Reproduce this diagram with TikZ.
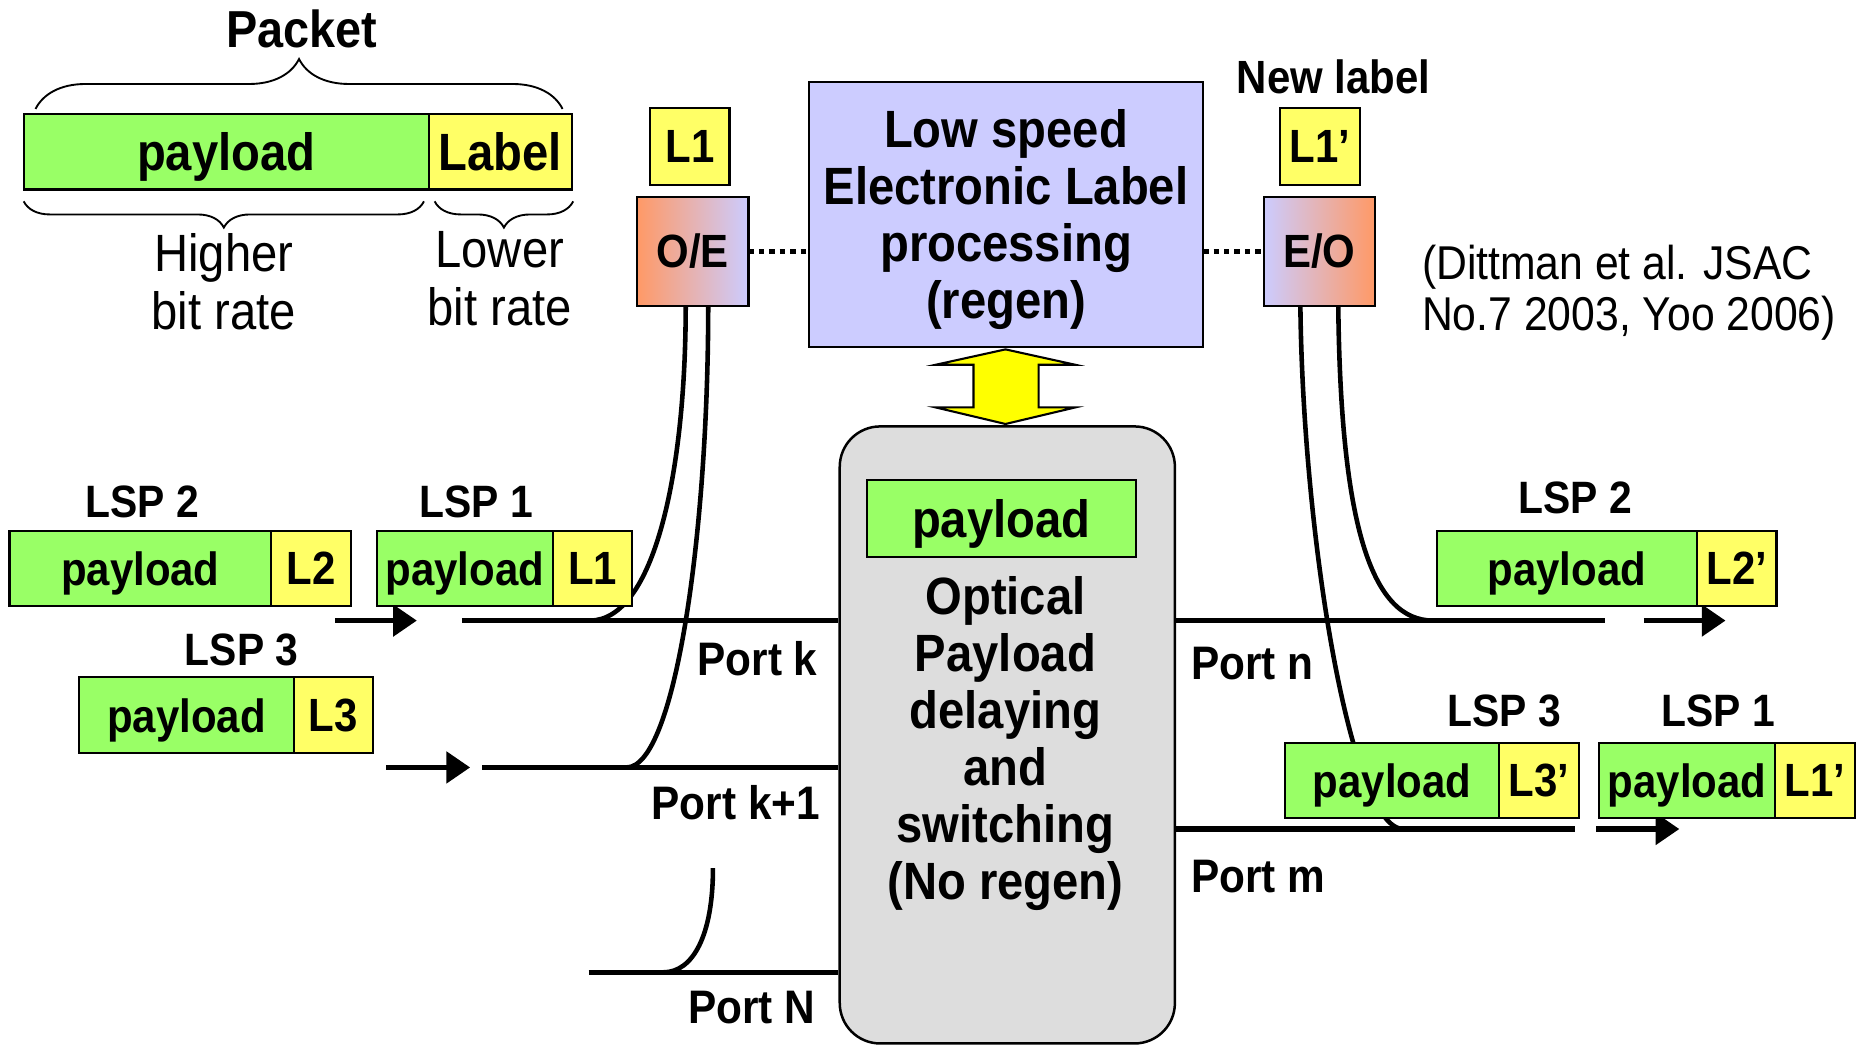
\documentclass[tikz,border=0pt]{standalone}
\usepackage{fontspec}
\setmainfont{Liberation Sans}[FakeStretch=0.9]
\usetikzlibrary{calc,arrows.meta,positioning,decorations.pathreplacing}

\definecolor{paygreen}{HTML}{99FF66}
\definecolor{labyellow}{HTML}{FFFF66}
\definecolor{lavender}{HTML}{CCCCFF}
\definecolor{convorange}{HTML}{FF9966}
\definecolor{switchgray}{HTML}{DDDDDD}
\definecolor{arrowyellow}{HTML}{FFFF00}

\begin{document}
\begin{tikzpicture}[x=0.1mm,y=-0.1mm,>={Triangle[length=5.7pt,width=7.4pt]},
  big/.style={font=\bfseries\fontsize{12.6}{13.7}\selectfont},
  mid/.style={font=\bfseries\fontsize{11.2}{12.5}\selectfont},
  lsp/.style={font=\bfseries\fontsize{10.9}{12}\selectfont},
  portname/.style={font=\bfseries\fontsize{11.3}{12}\selectfont,inner sep=0pt},
  plain/.style={font=\fontsize{12.6}{13.9}\selectfont,align=center},
  box/.style={draw,line width=0.5pt,inner sep=0pt,outer sep=0pt,text depth=0pt},
  pay/.style={box,fill=paygreen,minimum height=6.4mm,mid},
  lab/.style={box,fill=labyellow,minimum height=6.4mm,minimum width=6.7mm,mid},
  conv/.style={box,minimum width=9.4mm,minimum height=9.2mm,mid},
  port/.style={line width=1.3pt},
  fibre/.style={line width=1.1pt},
  brc/.style={decorate,line width=0.45pt},
  link/.style={line width=1.2pt,dash pattern=on 1.3pt off 1.2pt}]
\useasboundingbox (0,0) rectangle (1568,882);

% packet format
\node[lsp,font=\bfseries\fontsize{12.5}{13}\selectfont] (pkt) at (255,24) {Packet};
\node[pay,big,minimum width=34.2mm,anchor=north west] (pktpay) at (20,96) {payload};
\node[lab,big,minimum width=12.1mm,right=0pt of pktpay] (pktlab) {Label};
\draw[brc,decoration={brace,amplitude=12pt}] (30,92) -- (475,92);
\draw[brc,decoration={brace,amplitude=6.3pt}] (358,170) -- (20,170);
\draw[brc,decoration={brace,amplitude=6.3pt}] (484,170) -- (367,170);
\node[plain] (hirate) at (189,238) {Higher\\bit rate};
\node[plain] (lorate) at (422,235) {Lower\\bit rate};

% label processing
\node[box,fill=lavender,minimum width=33.3mm,minimum height=22.4mm,anchor=north west,big,align=center]
  (proc) at (683,69) {Low speed\\Electronic Label\\processing\\(regen)};
\node[conv,left color=convorange,right color=lavender,anchor=north west] (oe) at (538,166) {O/E};
\node[conv,left color=lavender,right color=convorange,anchor=north west] (eo) at (1067,166) {E/O};
\node[lab,minimum height=6.5mm,anchor=north west] (oldlab) at (549,91) {L1};
\node[lab,minimum height=6.5mm,anchor=north west] (newlab) at (1081,91) {L1’};
\node[lsp,font=\bfseries\fontsize{11.2}{12}\selectfont] (newtxt) at (1126,65) {New label};
\draw[link] (oe.east) -- (oe.east -| proc.west);
\draw[link] (proc.east |- eo.west) -- (eo.west);
\node[font=\fontsize{11.4}{12.2}\selectfont,align=left,anchor=west,inner sep=0pt] (cite) at (1200,247)
  {(Dittman et al. JSAC\\No.7 2003, Yoo 2006)};

% optical switch
\node[draw,line width=0.6pt,fill=switchgray,rounded corners=9.7pt,minimum width=28.3mm,
  minimum height=52.1mm,anchor=north west] (sw) at (708,359) {};
\node[pay,big,minimum width=22.7mm,minimum height=6.5mm,anchor=north west] (swpay) at (732,405) {payload};
\node[big,align=center,text depth=0pt] (swtxt) at (849,623) {Optical\\Payload\\delaying\\and\\switching\\(No regen)};
\draw[line width=0.5pt,fill=arrowyellow] (849,295) -- (790,308) -- (822,308) -- (822,344)
  -- (790,344) -- (849,358) -- (908,344) -- (877,344) -- (877,308) -- (908,308) -- cycle;

% input ports
\coordinate (pk) at (390,524);
\coordinate (pk1) at (407,648);
\coordinate (pN) at (497,821);
\draw[port] (pk) -- (pk -| sw.west);
\draw[port] (pk1) -- (pk1 -| sw.west);
\draw[port] (pN) -- (pN -| sw.west);
\coordinate (oe1) at ($(oe.south)+(-6,0)$);
\coordinate (oe2) at ($(oe.south)+(13,0)$);
\coordinate (jk) at (498,524);
\coordinate (jk1) at (529,648);
\coordinate (jN0) at (602,733);
\coordinate (jN) at (560,821);
\draw[fibre] (oe1) .. controls ($(oe1)+(0,142)$) and (552,524) .. (jk);
\draw[fibre] (oe2) .. controls ($(oe2)+(0,192)$) and (570,648) .. (jk1);
\draw[fibre] (jN0) .. controls (602,790) and (585,821) .. (jN);

% output ports
\coordinate (pn) at (1355,524);
\coordinate (pm) at (1330,700);
\draw[port] (sw.east |- pn) -- (pn);
\draw[port] (sw.east |- pm) -- (pm);
\coordinate (eo1) at ($(eo.south)+(-16,0)$);
\coordinate (eo2) at ($(eo.south)+(16,0)$);
\coordinate (jm) at (1185,700);
\coordinate (jn) at (1210,524);
\draw[fibre] (eo1) .. controls ($(eo1)+(2,192)$) and (1140,700) .. (jm);
\draw[fibre] (eo2) .. controls ($(eo2)+(2,192)$) and (1160,524) .. (jn);

% direction of travel
\coordinate (a2s) at (283,524); \coordinate (a2e) at (352,524);
\coordinate (a3s) at (326,648); \coordinate (a3e) at (397,648);
\coordinate (b2s) at (1388,524); \coordinate (b2e) at (1457,524);
\coordinate (b3s) at (1348,700); \coordinate (b3e) at (1418,700);
\draw[port,->] (a2s) -- (a2e);
\draw[port,->] (a3s) -- (a3e);
\draw[port,->] (b2s) -- (b2e);
\draw[port,->] (b3s) -- (b3e);

% incoming packets
\node[pay,minimum width=22.1mm,anchor=north west] (inpay2) at (8,448) {payload};
\node[lab,right=0pt of inpay2] (inlab2) {L2};
\node[pay,minimum width=14.9mm,anchor=north west] (inpay1) at (318,448) {payload};
\node[lab,right=0pt of inpay1] (inlab1) {L1};
\node[pay,minimum width=18.1mm,anchor=north west] (inpay3) at (67,572) {payload};
\node[lab,right=0pt of inpay3] (inlab3) {L3};
\node[lsp] (inlsp2) at (120,424) {LSP 2};
\node[lsp] (inlsp1) at (402,424) {LSP 1};
\node[lsp] (inlsp3) at (204,549) {LSP 3};

% outgoing packets
\node[pay,minimum width=22mm,anchor=north west] (outpay2) at (1213,448) {payload};
\node[lab,right=0pt of outpay2] (outlab2) {L2’};
\node[pay,minimum width=18.1mm,anchor=north west] (outpay3) at (1085,627) {payload};
\node[lab,right=0pt of outpay3] (outlab3) {L3’};
\node[pay,minimum width=14.9mm,anchor=north west] (outpay1) at (1350,627) {payload};
\node[lab,right=0pt of outpay1] (outlab1) {L1’};
\node[lsp] (outlsp2) at (1330,420) {LSP 2};
\node[lsp] (outlsp3) at (1270,600) {LSP 3};
\node[lsp] (outlsp1) at (1451,600) {LSP 1};

% port names
\node[portname,anchor=east] (lk) at (691,556) {Port k};
\node[portname,anchor=east] (lk1) at (693,678) {Port k+1};
\node[portname,anchor=east] (lN) at (689,851) {Port N};
\node[portname,anchor=west] (ln) at (1005,560) {Port n};
\node[portname,anchor=west] (lm) at (1005,740) {Port m};
\end{tikzpicture}
\end{document}
